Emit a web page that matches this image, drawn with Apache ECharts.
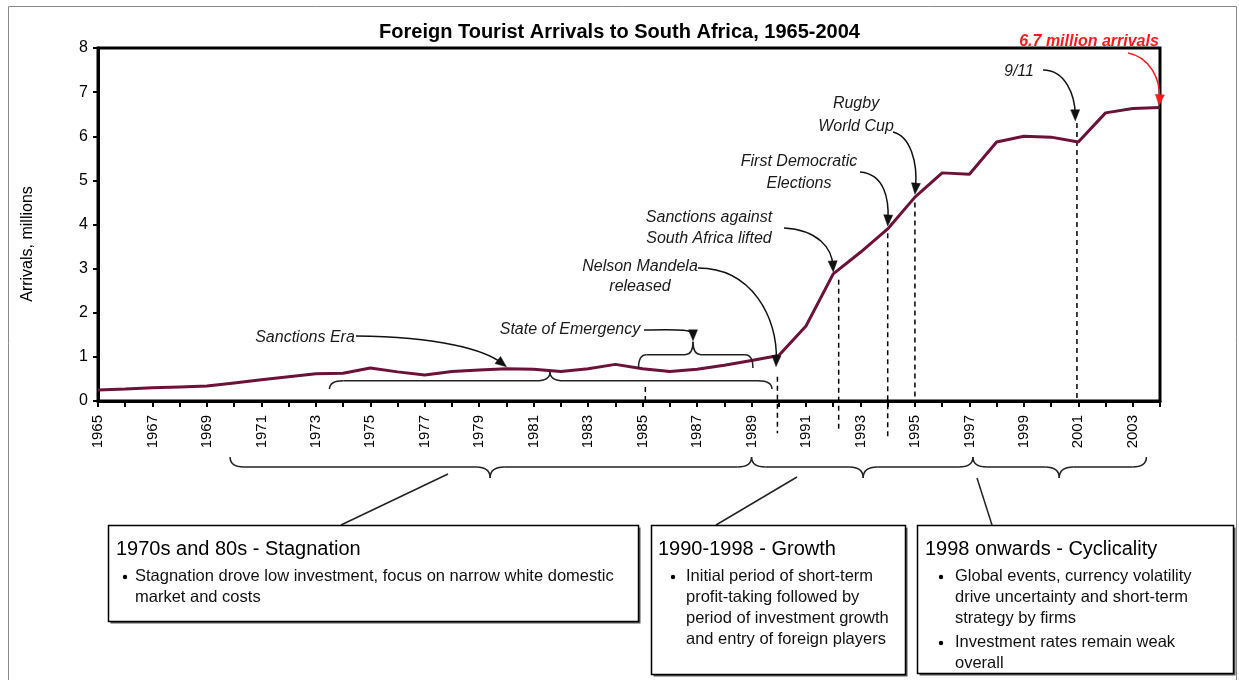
<!DOCTYPE html>
<html>
<head>
<meta charset="utf-8">
<title>Foreign Tourist Arrivals to South Africa, 1965-2004</title>
<script src="https://cdn.jsdelivr.net/npm/echarts@6/dist/echarts.min.js"></script>
<style>
  html, body { margin: 0; padding: 0; background: #fff; }
  #chart { width: 1239px; height: 680px; }
</style>
</head>
<body>
<div id="chart"></div>
<script>
// data
const years = [
  1965, 1966, 1967, 1968, 1969, 1970, 1971, 1972, 1973, 1974,
  1975, 1976, 1977, 1978, 1979, 1980, 1981, 1982, 1983, 1984,
  1985, 1986, 1987, 1988, 1989, 1990, 1991, 1992, 1993, 1994,
  1995, 1996, 1997, 1998, 1999, 2000, 2001, 2002, 2003, 2004
]
// foreign arrivals, millions
const arrivals = [
  0.25, 0.27, 0.30, 0.32, 0.34, 0.41, 0.48, 0.55, 0.62, 0.63,
  0.75, 0.66, 0.59, 0.67, 0.70, 0.73, 0.72, 0.67, 0.73, 0.83,
  0.73, 0.67, 0.72, 0.81, 0.92, 1.03, 1.70, 2.88, 3.37, 3.90,
  4.62, 5.17, 5.14, 5.87, 6.00, 5.98, 5.87, 6.53, 6.63, 6.65
]
const yMin = 0
const yMax = 8

// event annotations (label lines)
const eventLabels = [
  ['Sanctions Era'],
  ['State of Emergency'],
  ['Nelson Mandela', 'released'],
  ['Sanctions against', 'South Africa lifted'],
  ['First Democratic', 'Elections'],
  ['Rugby', 'World Cup'],
  ['9/11']
]
const peakLabel = '6.7 million arrivals'

// period boxes
const periodTitles = ['1970s and 80s - Stagnation', '1990-1998 - Growth', '1998 onwards - Cyclicality']
const periodBullets = [
  [['Stagnation drove low investment, focus on narrow white domestic', 'market and costs']],
  [['Initial period of short-term', 'profit-taking followed by', 'period of investment growth', 'and entry of foreign players']],
  [['Global events, currency volatility', 'drive uncertainty and short-term', 'strategy by firms'],
   ['Investment rates remain weak', 'overall']]
]

const FONT = '"Liberation Sans", Arial, Helvetica, sans-serif'
const LINE_COLOR = '#6c1238'

const chart = echarts.init(document.getElementById('chart'))

const option = {
  animation: false,
  backgroundColor: '#fff',
  title: {
    text: 'Foreign Tourist Arrivals to South Africa, 1965-2004',
    left: 'center',
    top: 17,
    textStyle: { fontFamily: FONT, fontSize: 20, fontWeight: 'bold', color: '#000' }
  },
  grid: {
    left: 98,
    right: 79,
    top: 48,
    bottom: 279,
    show: true,
    borderColor: '#000',
    borderWidth: 3
  },
  xAxis: {
    type: 'value',
    min: years[0],
    max: years[years.length - 1],
    interval: 1,
    axisLine: { show: true, onZero: false, lineStyle: { color: '#000', width: 3 } },
    axisTick: { show: true, length: 6, lineStyle: { color: '#000', width: 2 } },
    axisLabel: {
      rotate: 90,
      margin: 14,
      fontSize: 15,
      fontFamily: FONT,
      color: '#000',
      formatter: v => ((v - years[0]) % 2 === 0 ? String(v) : '')
    },
    splitLine: { show: false }
  },
  yAxis: {
    type: 'value',
    min: yMin,
    max: yMax,
    interval: 1,
    axisLine: { show: true, lineStyle: { color: '#000', width: 3 } },
    axisTick: { show: true, length: 5, lineStyle: { color: '#000', width: 2 } },
    axisLabel: { margin: 10, fontSize: 16, fontFamily: FONT, color: '#000' },
    splitLine: { show: false }
  },
  series: [{
    type: 'line',
    data: years.map((y, i) => [y, arrivals[i]]),
    showSymbol: false,
    symbol: 'none',
    lineStyle: { color: LINE_COLOR, width: 3 },
    z: 5
  }]
}

chart.setOption(option)

// helpers for the annotation layer
const px = (x, y) => chart.convertToPixel({ gridIndex: 0 }, [x, y])

// curly brace made of quadratic curves and straight lines
function brace(x1, x2, xt, yEnd, yBar, yTip, r) {
  const st = { stroke: '#222', lineWidth: 1.5, fill: null }
  const q = (ax, ay, cx, cy, bx, by) => ({
    type: 'bezierCurve', z: 6, style: st,
    shape: { x1: ax, y1: ay, cpx1: cx, cpy1: cy, x2: bx, y2: by }
  })
  const ln = (ax, ay, bx, by) => ({
    type: 'line', z: 6, style: st, shape: { x1: ax, y1: ay, x2: bx, y2: by }
  })
  return [
    q(x1, yEnd, x1, yBar, x1 + r, yBar),
    ln(x1 + r, yBar, xt - r, yBar),
    q(xt - r, yBar, xt, yBar, xt, yTip),
    q(xt, yTip, xt, yBar, xt + r, yBar),
    ln(xt + r, yBar, x2 - r, yBar),
    q(x2 - r, yBar, x2, yBar, x2, yEnd)
  ]
}

function curvedArrow(start, cp1, cp2, tip, color) {
  let dx = tip[0] - cp2[0]
  let dy = tip[1] - cp2[1]
  const len = Math.hypot(dx, dy) || 1
  dx /= len; dy /= len
  const base = [tip[0] - dx * 11, tip[1] - dy * 11]
  const nx = -dy * 4.5, ny = dx * 4.5
  return [
    {
      type: 'bezierCurve',
      shape: {
        x1: start[0], y1: start[1],
        cpx1: cp1[0], cpy1: cp1[1],
        cpx2: cp2[0], cpy2: cp2[1],
        x2: tip[0] - dx * 6, y2: tip[1] - dy * 6
      },
      style: { stroke: color, lineWidth: 1.5, fill: null },
      z: 20
    },
    {
      type: 'polygon',
      shape: { points: [tip, [base[0] + nx, base[1] + ny], [base[0] - nx, base[1] - ny]] },
      style: { fill: color, stroke: color, lineWidth: 0.5 },
      z: 20
    }
  ]
}

function label(lines, x, y, opts) {
  return {
    type: 'text',
    x: x,
    y: y,
    z: 20,
    style: Object.assign({
      text: lines.join('\n'),
      fontFamily: FONT,
      fontSize: 16,
      fontStyle: 'italic',
      fill: '#1a1a1a',
      lineHeight: 21,
      align: 'center',
      verticalAlign: 'middle'
    }, opts || {})
  }
}

function buildGraphics() {
  const els = []
  const add = a => Array.isArray(a) ? els.push(...a) : els.push(a)

  // outer frame
  add({ type: 'rect', shape: { x: 8.5, y: 6.5, width: 1228, height: 700 },
        style: { fill: null, stroke: '#8a8a8a', lineWidth: 1 }, z: 0, silent: true })

  // y axis name
  add({ type: 'text', x: 28, y: 244, rotation: Math.PI / 2, z: 20,
        style: { text: 'Arrivals, millions', fontFamily: FONT, fontSize: 16, fill: '#000',
                 align: 'center', verticalAlign: 'middle' } })

  // dashed event markers: [year, top value, bottom value]
  const markers = [[1985.1, 0.32, -0.05], [1989.95, 0.55, -0.73], [1992.2, 2.75, -0.72],
                   [1994.0, 3.8, -0.84], [1995.0, 4.5, 0], [2000.95, 6.3, 0]]
  markers.forEach(m => {
    const a = px(m[0], m[1]), b = px(m[0], m[2])
    add({ type: 'line', shape: { x1: a[0], y1: a[1], x2: b[0], y2: b[1] },
          style: { stroke: '#000', lineWidth: 1.5, lineDash: [5, 4] }, z: 4 })
  })

  // sanctions era brace (above axis, tip up)
  {
    const l = px(1973.5, 0.27), t = px(1981.6, 0.66), r = px(1989.75, 0.27), bar = px(1981.6, 0.46)
    add(brace(l[0], r[0], t[0], l[1], bar[1], t[1], 14))
  }
  // state of emergency brace
  const soeL = px(1984.85, 0.75), soeR = px(1989.05, 0.74), soeBar = px(1986.85, 1.05), soeTip = px(1986.85, 1.34)
  add(brace(soeL[0], soeR[0], soeTip[0], soeL[1], soeBar[1], soeTip[1], 8))

  // event labels and arrows
  const offset = (p, dx, dy) => [p[0] + dx, p[1] + dy]
  add(label(eventLabels[0], 305, 338))
  add(curvedArrow([356, 336], [440, 337], [485, 350], offset(px(1980, 0.73), 0, -2), '#111'))

  add(label(eventLabels[1], 570, 330))
  add(curvedArrow([644, 330], [684, 329], [soeTip[0], 330], offset(soeTip, 0, -1), '#111'))

  add(label(eventLabels[2], 640, 277, { lineHeight: 20 }))
  add(curvedArrow([698, 268], [752, 268], [778, 318], px(1989.9, 0.78), '#111'))

  add(label(eventLabels[3], 709, 228))
  add(curvedArrow([784, 228], [818, 230], [832, 248], offset(px(1992, 2.88), 0, -2), '#111'))

  add(label(eventLabels[4], 799, 173, { lineHeight: 22 }))
  add(curvedArrow([860, 172], [885, 174], [889, 200], offset(px(1994, 3.9), 0, -3), '#111'))

  add(label(eventLabels[5], 856, 115, { lineHeight: 23 }))
  add(curvedArrow([893, 132], [910, 136], [918, 162], offset(px(1995, 4.62), 0, -3), '#111'))

  add(label(eventLabels[6], 1019, 72))
  add(curvedArrow([1043, 70], [1066, 70], [1075, 96], offset(px(2001, 6.35), -3, 0), '#111'))

  add(label([peakLabel], 1089, 42, { fill: '#ff1a1a', fontWeight: 'bold' }))
  add(curvedArrow([1128, 53], [1150, 57], [1161, 80], offset(px(2004, 6.65), -1, -2), '#ff1a1a'))

  // period braces below the axis labels
  const bx = yr => px(yr, 0)[0]
  const periods = [[1969.85, 1989.0, 1979.4], [1989.0, 1997.13, 1993.1], [1997.13, 2003.5, 2000.3]]
  periods.forEach(p => add(brace(bx(p[0]), bx(p[1]), bx(p[2]), 457, 467, 478, 14)))

  // connectors to boxes
  ;[[448, 474, 341, 525], [797, 477, 716, 525], [977, 478, 992, 525]].forEach(c => {
    add({ type: 'line', shape: { x1: c[0], y1: c[1], x2: c[2], y2: c[3] },
          style: { stroke: '#222', lineWidth: 1.5 }, z: 6 })
  })

  // period boxes
  const boxes = [
    { x: 108, y: 525, w: 530, h: 96, tx: 116, bx: 125, bodyX: 135 },
    { x: 651, y: 525, w: 254, h: 149, tx: 658, bx: 673, bodyX: 686 },
    { x: 917, y: 525, w: 316, h: 148, tx: 925, bx: 941, bodyX: 955 }
  ]
  boxes.forEach((b, i) => {
    add({ type: 'rect', shape: { x: b.x + 2.5, y: b.y + 2.5, width: b.w, height: b.h },
          style: { fill: '#555' }, z: 7 })
    add({ type: 'rect', shape: { x: b.x + 0.5, y: b.y + 0.5, width: b.w, height: b.h },
          style: { fill: '#fff', stroke: '#000', lineWidth: 1.5 }, z: 8 })
    add({ type: 'text', x: b.tx, y: 549, z: 9,
          style: { text: periodTitles[i], fontFamily: FONT, fontSize: 20, fill: '#000',
                   align: 'left', verticalAlign: 'middle' } })
    let y = 576
    periodBullets[i].forEach(lines => {
      add({ type: 'circle', shape: { cx: b.bx, cy: y + 1, r: 2.2 }, style: { fill: '#000' }, z: 9 })
      add({ type: 'text', x: b.bodyX, y: y - 10.5, z: 9,
            style: { text: lines.join('\n'), fontFamily: FONT, fontSize: 16.5, fill: '#111', lineHeight: 21,
                     align: 'left', verticalAlign: 'top' } })
      y += lines.length * 21 + 3
    })
  })

  return els
}

chart.setOption({ graphic: { elements: buildGraphics() } })
</script>
</body>
</html>
